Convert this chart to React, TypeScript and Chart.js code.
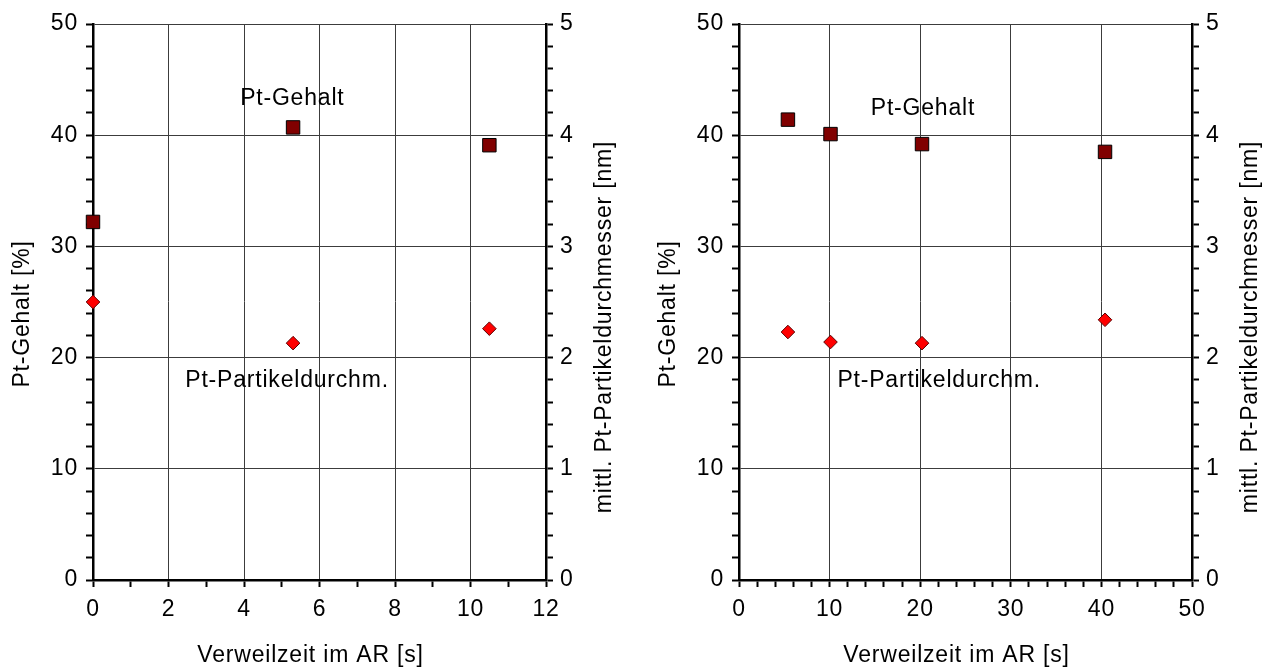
import React, { useEffect, useRef } from 'react';
import { Chart, registerables } from 'chart.js';

Chart.register(...registerables);

// ---------- data ----------
// left panel
const timesLeft = [0, 5.3, 10.5];
const ptGehaltLeft = [32.2, 40.7, 39.1];
const diameterLeft = [2.5, 2.13, 2.26];

// right panel
const timesRight = [5.4, 10.1, 20.2, 40.4];
const ptGehaltRight = [41.4, 40.1, 39.2, 38.5];
const diameterRight = [2.23, 2.14, 2.13, 2.34];

// axis ranges / tick steps
const xRangeLeft = [0, 12];
const xRangeRight = [0, 50];
const yRange = [0, 50];
const y2Range = [0, 5];

// texts
const xTitle = 'Verweilzeit im AR [s]';
const yTitle = 'Pt-Gehalt [%]';
const y2Title = 'mittl. Pt-Partikeldurchmesser [nm]';
const labelGehalt = 'Pt-Gehalt';
const labelDiameter = 'Pt-Partikeldurchm.';

const FONT = '"Liberation Sans", Arial, Helvetica, sans-serif';
const FONT_SIZE = 23;

type Annot = { text: string; x: number; y: number };
type PanelCfg = {
  times: number[];
  gehalt: number[];
  diam: number[];
  xRange: number[];
  xStep: number;
  xLabelEvery: number;
  leftWidth: number;
  rightWidth: number;
  annotations: Annot[];
};

const isMultiple = (v: number, every: number) => {
  const r = v / every;
  return Math.abs(r - Math.round(r)) < 1e-6;
};

const textPlugin = {
  id: 'customTexts',
  beforeDraw(chart: any) {
    chart.ctx.letterSpacing = '0.8px';
  },
  afterDraw(chart: any, _args: any, opts: any) {
    const { ctx, chartArea } = chart;
    ctx.save();
    ctx.letterSpacing = '0.8px';
    ctx.font = `${FONT_SIZE}px ${FONT}`;
    ctx.fillStyle = '#000';
    ctx.textAlign = 'center';
    ctx.textBaseline = 'middle';
    const cx = (chartArea.left + chartArea.right) / 2;
    const cy = (chartArea.top + chartArea.bottom) / 2;
    // x title
    ctx.fillText(xTitle, cx - 9, chartArea.bottom + 76);
    // left title
    ctx.save();
    ctx.translate(chartArea.left - 70, cy + 12);
    ctx.rotate(-Math.PI / 2);
    ctx.fillText(yTitle, 0, 0);
    ctx.restore();
    // right title
    ctx.save();
    ctx.translate(chartArea.right + 59, cy + 25);
    ctx.rotate(-Math.PI / 2);
    ctx.fillText(y2Title, 0, 0);
    ctx.restore();
    // annotations
    const xs = chart.scales.x;
    const ys = chart.scales.y;
    (opts.annotations || []).forEach((a: Annot) => {
      ctx.fillText(a.text, xs.getPixelForValue(a.x), ys.getPixelForValue(a.y));
    });
    ctx.restore();
  },
};

function buildChart(canvas: HTMLCanvasElement, p: PanelCfg) {
  const tickFont = { family: FONT, size: FONT_SIZE };
  const gridColor = (every: number) => (ctx: any) =>
    ctx.tick && isMultiple(ctx.tick.value, every) ? '#3c3c3c' : 'rgba(0,0,0,0)';
  return new Chart(canvas, {
    type: 'scatter',
    data: {
      datasets: [
        {
          label: labelGehalt,
          data: p.times.map((t, i) => ({ x: t, y: p.gehalt[i] })),
          yAxisID: 'y',
          pointStyle: 'rect',
          pointRadius: 9.5,
          pointHoverRadius: 9.5,
          backgroundColor: '#800000',
          borderColor: '#000000',
          borderWidth: 1,
          clip: false,
        } as any,
        {
          label: labelDiameter,
          data: p.times.map((t, i) => ({ x: t, y: p.diam[i] })),
          yAxisID: 'y2',
          pointStyle: 'rectRot',
          pointRadius: 6.8,
          pointHoverRadius: 6.8,
          backgroundColor: '#ff0000',
          borderColor: '#5a0000',
          borderWidth: 1,
          clip: false,
        } as any,
      ],
    },
    options: {
      responsive: false,
      animation: false,
      devicePixelRatio: 1,
      layout: { padding: { top: 24, left: 0, right: 0, bottom: 0 } },
      plugins: {
        legend: { display: false },
        tooltip: { enabled: false },
        customTexts: { annotations: p.annotations },
      } as any,
      scales: {
        x: {
          type: 'linear',
          position: 'bottom',
          min: p.xRange[0],
          max: p.xRange[1],
          afterFit: (s: any) => {
            s.height = 89;
          },
          ticks: {
            stepSize: p.xStep,
            autoSkip: false,
            maxRotation: 0,
            font: tickFont,
            color: '#000',
            padding: 9,
            callback: (v: any) => (isMultiple(Number(v), p.xLabelEvery) ? String(v) : ''),
          },
          grid: {
            color: gridColor(p.xLabelEvery),
            lineWidth: 1,
            tickColor: '#000',
            tickWidth: 2,
            tickLength: 7,
          },
          border: { display: true, color: '#000', width: 2.5 },
        },
        y: {
          type: 'linear',
          position: 'left',
          min: yRange[0],
          max: yRange[1],
          afterFit: (s: any) => {
            s.width = p.leftWidth;
          },
          ticks: {
            stepSize: 2,
            autoSkip: false,
            font: tickFont,
            color: '#000',
            padding: 8,
            callback: (v: any) => (isMultiple(Number(v), 10) ? String(v) : ''),
          },
          grid: {
            color: gridColor(10),
            lineWidth: 1,
            tickColor: '#000',
            tickWidth: 2,
            tickLength: 7,
          },
          border: { display: true, color: '#000', width: 2.5 },
        },
        y2: {
          type: 'linear',
          position: 'right',
          min: y2Range[0],
          max: y2Range[1],
          afterFit: (s: any) => {
            s.width = p.rightWidth;
          },
          ticks: {
            stepSize: 0.2,
            autoSkip: false,
            font: tickFont,
            color: '#000',
            padding: 7,
            callback: (v: any) => (isMultiple(Number(v), 1) ? String(Math.round(Number(v))) : ''),
          },
          grid: {
            drawOnChartArea: false,
            color: '#000',
            tickColor: '#000',
            tickWidth: 2,
            tickLength: 7,
          },
          border: { display: true, color: '#000', width: 2.5 },
        },
      },
    } as any,
    plugins: [textPlugin as any],
  });
}

export default function App() {
  const leftRef = useRef<HTMLCanvasElement>(null);
  const rightRef = useRef<HTMLCanvasElement>(null);

  useEffect(() => {
    const c1 = buildChart(leftRef.current!, {
      times: timesLeft,
      gehalt: ptGehaltLeft,
      diam: diameterLeft,
      xRange: xRangeLeft,
      xStep: 1,
      xLabelEvery: 2,
      leftWidth: 93,
      rightWidth: 89,
      annotations: [
        { text: labelGehalt, x: 5.28, y: 43.3 },
        { text: labelDiameter, x: 5.14, y: 17.9 },
      ],
    });
    const c2 = buildChart(rightRef.current!, {
      times: timesRight,
      gehalt: ptGehaltRight,
      diam: diameterRight,
      xRange: xRangeRight,
      xStep: 2,
      xLabelEvery: 10,
      leftWidth: 104,
      rightWidth: 78,
      annotations: [
        { text: labelGehalt, x: 20.3, y: 42.4 },
        { text: labelDiameter, x: 22.1, y: 17.9 },
      ],
    });
    return () => {
      c1.destroy();
      c2.destroy();
    };
  }, []);

  return (
    <div style={{ position: 'fixed', left: 0, top: 0, width: 1270, height: 669, background: '#fff' }}>
      <canvas ref={leftRef} width={635} height={669} style={{ position: 'absolute', left: 0, top: 0 }} />
      <canvas ref={rightRef} width={635} height={669} style={{ position: 'absolute', left: 635, top: 0 }} />
    </div>
  );
}
